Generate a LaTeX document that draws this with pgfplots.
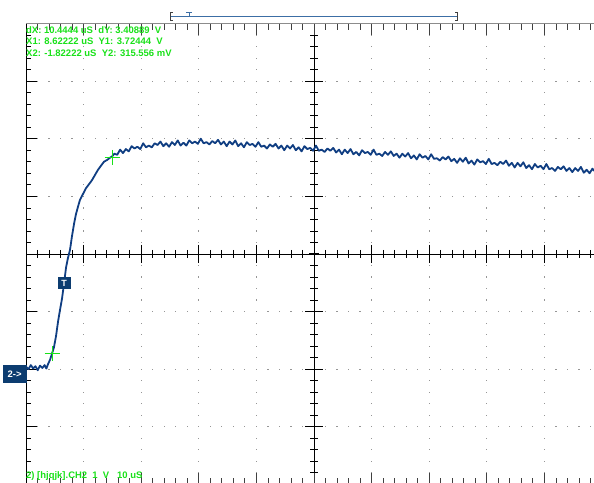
\documentclass[border=0pt]{standalone}
\usepackage{fontspec}
\setmainfont{Liberation Sans}
\usepackage{pgfplots}
\pgfplotsset{compat=1.18}
\definecolor{trace}{RGB}{16,62,130}
\definecolor{scgreen}{RGB}{25,225,25}
\definecolor{navy}{RGB}{12,60,112}
\definecolor{trig}{RGB}{60,110,165}
\definecolor{dotc}{RGB}{150,150,150}
\begin{document}
\begin{tikzpicture}[x=1bp,y=1bp]
\path[use as bounding box] (0,0) rectangle (594,483);
% ---------- graticule (pixel frame, y downward) ----------
\begin{scope}[shift={(0,483)},yscale=-1]
\foreach \i in {1,2,3,4,6,7,8,9}{\foreach \j in {1,...,39}{
  \fill[dotc] ({26+57.6*\i-0.6},{23.6+11.52*\j-0.6}) rectangle ++(1.2,1.2);}}
\foreach \j in {1,2,3,5,6,7}{\foreach \i in {1,...,49}{
  \fill[dotc] ({26+11.52*\i-0.6},{23.6+57.6*\j-0.6}) rectangle ++(1.2,1.2);}}
% centre cross
\draw[black,line width=0.9] (26,254) -- (594,254);
\draw[black,line width=0.9] (314,23.6) -- (314,483);
\foreach \i in {1,...,51}{\draw[black,line width=0.8] ({26+11.52*\i},250) -- ++(0,8);}
\foreach \i in {1,...,9}{\draw[black,line width=0.8] ({26+57.6*\i},245) -- ++(0,18);}
\foreach \j in {1,...,39}{\draw[black,line width=0.8] (310,{23.6+11.52*\j}) -- ++(8,0);}
\foreach \j in {1,...,7}{\draw[black,line width=0.8] (305,{23.6+57.6*\j}) -- ++(18,0);}
\fill[black] (309,252.8) rectangle (319,255.2);
% left edge
\draw[black,line width=0.9] (26,23.6) -- (26,483);
\foreach \j in {1,...,40}{\draw[black,line width=0.8] (26,{23.6+11.52*\j}) -- ++(5,0);}
\foreach \j in {1,...,7}{\draw[black,line width=0.8] (26,{23.6+57.6*\j}) -- ++(11,0);}
% top edge
\draw[black!45,line width=1.8] (26,23.6) -- (594,23.6);
\foreach \i in {1,...,49}{\draw[black!75,line width=0.8] ({26+11.52*\i},23.6) -- ++(0,6);}
\foreach \i in {1,...,9}{\draw[black!75,line width=0.8] ({26+57.6*\i},23.6) -- ++(0,11);}
% bottom edge ticks
\foreach \i in {1,...,49}{\draw[black!75,line width=0.8] ({26+11.52*\i},484.4) -- ++(0,-6);}
\foreach \i in {1,...,9}{\draw[black!75,line width=0.8] ({26+57.6*\i},484.4) -- ++(0,-11);}
% trigger bar
\draw[trig,line width=1.2] (170,16.7) -- (457,16.7);
\draw[black!75,line width=1] (172.5,12.5) -- (170.5,12.5) -- (170.5,21) -- (172.5,21);
\draw[black!75,line width=1] (455,12.5) -- (457,12.5) -- (457,21) -- (455,21);
\draw[trig,line width=1] (186,13) -- (192,13) (189,13) -- (189,17);
\end{scope}
% ---------- trace ----------
\begin{axis}[at={(26bp,0bp)},anchor=south west,scale only axis,
  width=568bp,height=461bp,
  xmin=-6.337,xmax=92.274,ymin=-1.927,ymax=6.076,
  hide axis,clip=true]
\addplot[trace,line width=1.8bp,line join=round] coordinates {
(-6.3,0.09) (-5.9,0.05) (-5.5,0.12) (-5.1,0.06) (-4.7,0.10) (-4.3,0.03)
(-3.9,0.11) (-3.5,0.07) (-3.1,0.12) (-2.8,0.06) (-2.5,0.14)
(-2.17,0.21) (-1.82,0.32) (-1.48,0.43) (-1.13,0.62) (-0.78,0.87) (-0.43,1.08)
(-0.09,1.27) (0.26,1.53) (0.61,1.81) (0.95,1.98) (1.30,2.12) (1.65,2.36)
(2.0,2.57) (2.34,2.74) (2.69,2.87) (3.04,2.99) (3.56,3.09) (4.08,3.19)
(4.6,3.26) (5.12,3.33) (5.64,3.42) (6.16,3.51) (6.68,3.58) (7.2,3.65)
(7.73,3.68) (8.25,3.72) (8.6,3.74)
(9.0,3.79) (9.5,3.77) (10.0,3.86) (10.5,3.80) (11.0,3.87) (11.5,3.83)
(12.0,3.92) (12.5,3.88) (13.0,3.91) (13.5,3.87) (14.0,3.97) (14.5,3.90)
(15.0,3.93) (15.5,3.90) (16.0,3.97) (16.5,3.94) (17.0,4.00) (17.5,3.92)
(18.0,3.97) (18.5,3.91) (19.0,3.99) (19.5,3.94) (20.0,4.02) (20.5,3.93)
(21.0,3.98) (21.5,3.93) (22.0,4.02) (22.5,3.97) (23.0,4.00) (23.5,3.96)
(24.0,4.05) (24.5,3.97) (25.0,3.99) (25.5,3.95) (26.0,4.01) (26.5,3.97)
(27.0,4.03) (27.5,3.95) (28.0,4.00) (28.5,3.92) (29.0,4.00) (29.5,3.95)
(30.0,4.02) (30.5,3.92) (31.0,3.97) (31.5,3.90) (32.0,3.99) (32.5,3.94)
(33.0,3.96) (33.5,3.91) (34.0,3.99) (34.5,3.91) (35.0,3.93) (35.5,3.88)
(36.0,3.95) (36.5,3.91) (37.0,3.96) (37.5,3.88) (38.0,3.93) (38.5,3.85)
(39.0,3.93) (39.5,3.88) (40.0,3.94) (40.5,3.85) (41.0,3.90) (41.5,3.83)
(42.0,3.92) (42.5,3.87) (43.0,3.89) (43.5,3.84) (44.0,3.93) (44.5,3.84)
(45.0,3.86) (45.5,3.82) (46.0,3.88) (46.5,3.84) (47.0,3.89) (47.5,3.81)
(48.0,3.86) (48.5,3.78) (49.0,3.86) (49.5,3.80) (50.0,3.87) (50.5,3.78)
(51.0,3.82) (51.5,3.76) (52.0,3.85) (52.5,3.80) (53.0,3.82) (53.5,3.77)
(54.0,3.86) (54.5,3.77) (55.0,3.79) (55.5,3.75) (56.0,3.82) (56.5,3.77)
(57.0,3.83) (57.5,3.75) (58.0,3.79) (58.5,3.72) (59.0,3.79) (59.5,3.74)
(60.0,3.80) (60.5,3.71) (61.0,3.76) (61.5,3.69) (62.0,3.78) (62.5,3.72)
(63.0,3.75) (63.5,3.69) (64.0,3.78) (64.5,3.70) (65.0,3.71) (65.5,3.67)
(66.0,3.73) (66.5,3.69) (67.0,3.74) (67.5,3.66) (68.0,3.70) (68.5,3.63)
(69.0,3.71) (69.5,3.65) (70.0,3.72) (70.5,3.62) (71.0,3.67) (71.5,3.60)
(72.0,3.69) (72.5,3.64) (73.0,3.66) (73.5,3.61) (74.0,3.70) (74.5,3.61)
(75.0,3.63) (75.5,3.59) (76.0,3.65) (76.5,3.61) (77.0,3.67) (77.5,3.58)
(78.0,3.63) (78.5,3.55) (79.0,3.63) (79.5,3.57) (80.0,3.64) (80.5,3.54)
(81.0,3.59) (81.5,3.52) (82.0,3.61) (82.5,3.55) (83.0,3.58) (83.5,3.52)
(84.0,3.61) (84.5,3.52) (85.0,3.54) (85.5,3.49) (86.0,3.56) (86.5,3.52)
(87.0,3.57) (87.5,3.49) (88.0,3.54) (88.5,3.47) (89.0,3.54) (89.5,3.49)
(90.0,3.56) (90.5,3.46) (91.0,3.51) (91.5,3.45) (92.0,3.53) (92.3,3.49)
};
% cursors
\addplot[only marks,mark=+,mark size=7.5bp,scgreen,line width=1bp,mark options={solid}]
  coordinates {(-1.822,0.3156) (8.622,3.724)};
\end{axis}
% ---------- annotations ----------
\begin{scope}[shift={(0,483)},yscale=-1]
\fill[navy] (58,277) rectangle (70.5,289);
\node[white,font=\bfseries\fontsize{9}{9}\selectfont,inner sep=0] at (64.2,283) {T};
\fill[navy] (3,365) rectangle (26.5,383);
\node[white,font=\bfseries\fontsize{9.5}{9.5}\selectfont,inner sep=0] at (14.7,374) {2->};
\node[scgreen,font=\bfseries\fontsize{9.5}{10}\selectfont,anchor=west,inner sep=0] at (26,30) {dX: 10.4444 uS\ \ dY: 3.40889\ \ V};
\node[scgreen,font=\bfseries\fontsize{9.5}{10}\selectfont,anchor=west,inner sep=0] at (26,41.5) {X1: 8.62222 uS\ \ Y1: 3.72444\ \ V};
\node[scgreen,font=\bfseries\fontsize{9.5}{10}\selectfont,anchor=west,inner sep=0] at (26,53) {X2: -1.82222 uS\ \ Y2: 315.556 mV};
\node[scgreen,font=\bfseries\fontsize{9.5}{10}\selectfont,anchor=west,inner sep=0] at (26,476) {2) [hjqjk].CH2\ \ 1\ \ V\ \ \ 10 uS};
\end{scope}
\end{tikzpicture}
\end{document}
